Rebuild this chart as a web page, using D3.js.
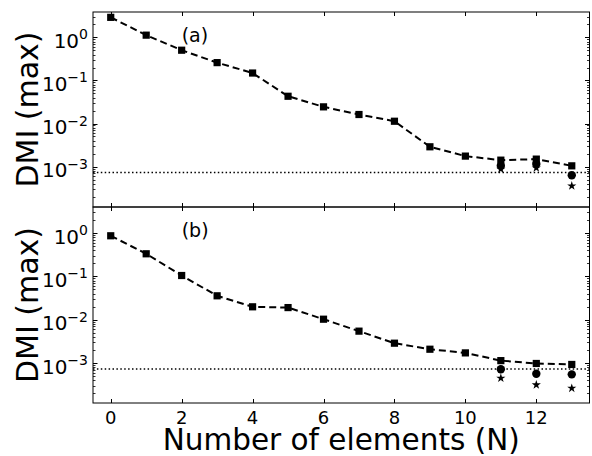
<!DOCTYPE html>
<html>
<head>
<meta charset="utf-8">
<script src="https://cdn.jsdelivr.net/npm/d3@7"></script>
<style>
body { margin: 0; background: #fff; }
text { font-family: "DejaVu Sans", sans-serif; fill: #000; }
</style>
</head>
<body>
<div class="chart"></div>
<script>
var elements = [0, 1, 2, 3, 4, 5, 6, 7, 8, 9, 10, 11, 12, 13];
var tailN = [11, 12, 13];

var squaresA = [2.93, 1.13, 0.505, 0.26, 0.149, 0.043, 0.0244, 0.0162, 0.0113, 0.00288, 0.00175, 0.00141, 0.00149, 0.00104];
var circlesA = [0.00104, 0.00115, 0.00063];
var starsA = [0.00087, 0.00093, 0.000355];

var squaresB = [0.867, 0.333, 0.105, 0.0357, 0.0199, 0.0191, 0.0103, 0.00546, 0.00288, 0.00209, 0.00172, 0.00114, 0.00098, 0.00093];
var circlesB = [0.00072, 0.00057, 0.00055];
var starsB = [0.00045, 0.000315, 0.000263];

var threshold = 0.00073;
var xTicks = [0, 2, 4, 6, 8, 10, 12];
var yMajor = [1e-3, 1e-2, 1e-1, 1];
var yExp = ["−3", "−2", "−1", "0"];

var width = 592, height = 456;
var left = 93, right = 589.5;

var svg = d3.select(".chart").append("svg")
	.attr("width", width)
	.attr("height", height);

var x = d3.scaleLinear().domain([-0.5, 13.5]).range([left, right]);

function minorTicks(dom) {
	var out = [];
	for (var e = -5; e <= 1; e++) {
		for (var k = 2; k <= 9; k++) {
			var v = k * Math.pow(10, e);
			if (v > dom[0] && v < dom[1]) out.push(v);
		}
	}
	return out;
}

function panel(top, bottom, dom, squares, circles, stars, tag, showXLabels) {
	var y = d3.scaleLog().domain(dom).range([bottom, top]);
	var g = svg.append("g");

	// dotted threshold
	g.append("line")
		.attr("x1", left).attr("x2", right)
		.attr("y1", y(threshold)).attr("y2", y(threshold))
		.attr("stroke", "#000").attr("stroke-width", 1.5)
		.attr("stroke-dasharray", "1.5,2.4");

	// dashed line
	var line = d3.line().x(function(d, i) { return x(elements[i]); }).y(function(d) { return y(d); });
	g.append("path").datum(squares)
		.attr("d", line)
		.attr("fill", "none").attr("stroke", "#000").attr("stroke-width", 2)
		.attr("stroke-dasharray", "7,4");

	// stars
	var star = d3.symbol().type(d3.symbolStar).size(26);
	g.selectAll(".star").data(stars).enter().append("path")
		.attr("transform", function(d, i) { return "translate(" + x(tailN[i]) + "," + y(d) + ")"; })
		.attr("d", star).attr("fill", "#000");

	// circles
	g.selectAll(".circ").data(circles).enter().append("circle")
		.attr("cx", function(d, i) { return x(tailN[i]); })
		.attr("cy", function(d) { return y(d); })
		.attr("r", 4.2).attr("fill", "#000");

	// squares
	g.selectAll(".sq").data(squares).enter().append("rect")
		.attr("x", function(d, i) { return x(elements[i]) - 3.6; })
		.attr("y", function(d) { return y(d) - 3.6; })
		.attr("width", 7.2).attr("height", 7.2).attr("fill", "#000");

	// frame
	g.append("rect")
		.attr("x", left).attr("y", top)
		.attr("width", right - left).attr("height", bottom - top)
		.attr("fill", "none").attr("stroke", "#000").attr("stroke-width", 1);

	// y ticks major
	yMajor.forEach(function(v, i) {
		var yy = Math.round(y(v)) + 0.5;
		g.append("line").attr("x1", left).attr("x2", left + 4.5).attr("y1", yy).attr("y2", yy).attr("stroke", "#000");
		g.append("line").attr("x1", right - 4.5).attr("x2", right).attr("y1", yy).attr("y2", yy).attr("stroke", "#000");
		var t = g.append("text")
			.attr("x", left - 5).attr("y", y(v) + 10.5)
			.attr("text-anchor", "end")
			.style("font-size", "20px");
		t.append("tspan").text("10");
		t.append("tspan").attr("dy", -8.5).style("font-size", "14px").text(yExp[i]);
	});
	// y ticks minor
	minorTicks(dom).forEach(function(v) {
		var yy = Math.round(y(v)) + 0.5;
		g.append("line").attr("x1", left).attr("x2", left + 2.5).attr("y1", yy).attr("y2", yy).attr("stroke", "#000").attr("stroke-width", 0.8);
		g.append("line").attr("x1", right - 2.5).attr("x2", right).attr("y1", yy).attr("y2", yy).attr("stroke", "#000").attr("stroke-width", 0.8);
	});

	// x ticks
	xTicks.forEach(function(v) {
		var xx = Math.round(x(v)) + 0.5;
		g.append("line").attr("x1", xx).attr("x2", xx).attr("y1", top).attr("y2", top + 4).attr("stroke", "#000");
		g.append("line").attr("x1", xx).attr("x2", xx).attr("y1", bottom - 4).attr("y2", bottom).attr("stroke", "#000");
		if (showXLabels) {
			g.append("text").attr("x", x(v)).attr("y", bottom + 21)
				.attr("text-anchor", "middle").style("font-size", "18px").text(v);
		}
	});

	// panel tag
	g.append("text").attr("x", x(2)).attr("y", y(0.8))
		.style("font-size", "19px").text(tag);

	// y label
	g.append("text")
		.attr("transform", "translate(38," + ((top + bottom) / 2) + ") rotate(-90)")
		.attr("text-anchor", "middle")
		.style("font-size", "30px")
		.text("DMI (max)");
}

panel(12, 207, [1.15e-4, 3.9], squaresA, circlesA, starsA, "(a)", false);
panel(207, 403, [1.2e-4, 4], squaresB, circlesB, starsB, "(b)", true);

svg.append("text")
	.attr("x", (left + right) / 2).attr("y", 450)
	.attr("text-anchor", "middle")
	.style("font-size", "29.5px")
	.text("Number of elements (N)");
</script>
</body>
</html>
